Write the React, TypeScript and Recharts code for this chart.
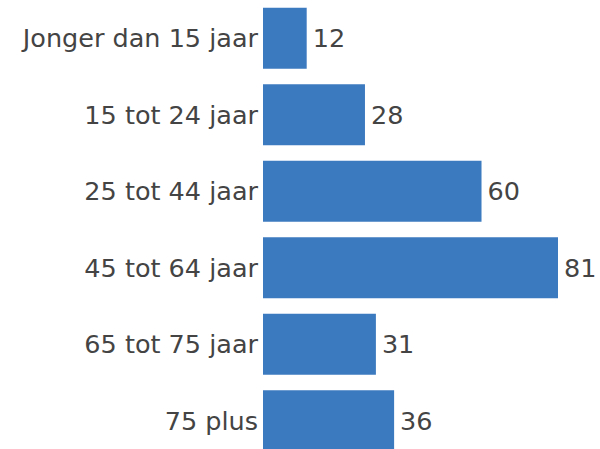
import { BarChart, Bar, XAxis, YAxis, LabelList } from 'recharts';

const categories = [
    'Jonger dan 15 jaar',
    '15 tot 24 jaar',
    '25 tot 44 jaar',
    '45 tot 64 jaar',
    '65 tot 75 jaar',
    '75 plus',
];
const counts = [12, 28, 60, 81, 31, 36];

const data = categories.map((name, i) => ({ name, value: counts[i] }));

const textStyle = { fill: '#444444', fontSize: 25.5, fontFamily: 'DejaVu Sans' };

export default function App() {
    return (
        <div
            style={{
                position: 'fixed',
                top: 0,
                left: 0,
                width: 600,
                height: 449,
                overflow: 'hidden',
                background: '#fff',
            }}
        >
            <BarChart
                width={600}
                height={459}
                data={data}
                layout="vertical"
                barCategoryGap="10%"
                margin={{ top: 0, right: 42, left: 0, bottom: 0 }}
            >
                <XAxis type="number" hide domain={[0, 81]} />
                <YAxis
                    type="category"
                    dataKey="name"
                    width={263}
                    axisLine={false}
                    tickLine={false}
                    tickSize={0}
                    tickMargin={5}
                    tick={textStyle}
                    interval={0}
                />
                <Bar dataKey="value" fill="#3c7abf" isAnimationActive={false}>
                    <LabelList dataKey="value" position="right" offset={6} style={textStyle} />
                </Bar>
            </BarChart>
        </div>
    );
}
